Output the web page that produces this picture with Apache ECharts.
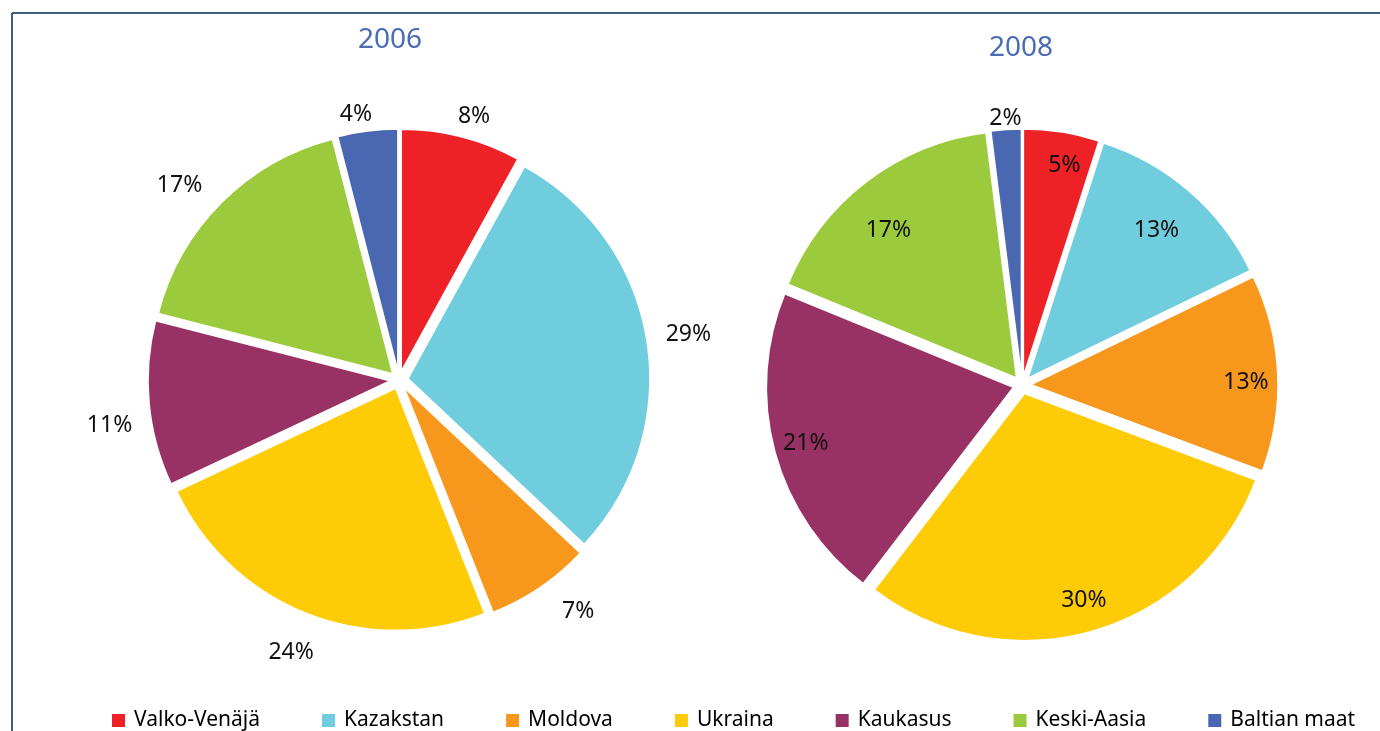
<!DOCTYPE html>
<html>
<head>
<meta charset="utf-8">
<script src="https://cdn.jsdelivr.net/npm/echarts@6/dist/echarts.min.js"></script>
<style>
  html, body { margin: 0; padding: 0; background: #fff; }
  #chart { width: 1380px; height: 731px; }
</style>
</head>
<body>
<div id="chart"></div>
<script>
// alueet ja osuudet (%)
const categories = ["Valko-Venäjä", "Kazakstan", "Moldova", "Ukraina", "Kaukasus", "Keski-Aasia", "Baltian maat"];
const values2006 = [8, 29, 7, 24, 11, 17, 4];
const values2008 = [5, 13, 13, 30, 21, 17, 2];
const years = ["2006", "2008"];
const colors = ["#ee2127", "#6fcddd", "#f7981d", "#fecc07", "#993264", "#9bca3c", "#4a68b1"];

const font = "Noto Sans";

function pieData(values) {
  return categories.map((name, i) => ({ name: name, value: values[i], selected: true }));
}

const pieBase = {
  type: "pie",
  startAngle: 90,
  clockwise: true,
  selectedMode: "multiple",
  selectedOffset: 9,
  avoidLabelOverlap: false,
  label: { show: false },
  labelLine: { show: false },
  itemStyle: { borderColor: "#fff", borderWidth: 1.5 },
  emphasis: { disabled: true },
  animation: false,
};

// läpinäkyvä rengas, joka kantaa vain prosenttitekstit
function labelRing(name, center, values, shown, radius, startAngle) {
  return {
    type: "pie",
    name: name,
    center: center,
    radius: radius,
    startAngle: startAngle,
    silent: true,
    avoidLabelOverlap: false,
    itemStyle: { color: "rgba(0,0,0,0)" },
    labelLine: { show: false },
    label: {
      position: "inside",
      formatter: "{c}%",
      color: "#111",
      fontFamily: font,
      fontSize: 23,
      textBorderWidth: 0,
    },
    emphasis: { disabled: true },
    animation: false,
    data: categories.map((n, i) => ({
      name: n,
      value: values[i],
      label: { show: shown.indexOf(i) >= 0 },
    })),
  };
}

const c2006 = [399, 380];
const c2008 = [1022, 385];

const chart = echarts.init(document.getElementById("chart"));
chart.setOption({
  color: colors,
  animation: false,
  title: [
    {
      text: years[0],
      left: 390,
      top: 26,
      textAlign: "center",
      padding: 0,
      textStyle: { color: "#4a6cb3", fontFamily: font, fontSize: 28, fontWeight: "normal" },
    },
    {
      text: years[1],
      left: 1021,
      top: 34,
      textAlign: "center",
      padding: 0,
      textStyle: { color: "#4a6cb3", fontFamily: font, fontSize: 28, fontWeight: "normal" },
    },
  ],
  legend: {
    data: categories,
    left: 110,
    top: 710,
    padding: 0,
    icon: "rect",
    itemWidth: 15,
    itemHeight: 15,
    itemGap: 60,
    selectedMode: false,
    textStyle: { color: "#000", fontFamily: font, fontSize: 21, padding: [0, 0, 0, 3] },
  },
  graphic: [
    {
      type: "line",
      shape: { x1: 12, y1: 13, x2: 1380, y2: 13 },
      style: { stroke: "#3c6180", lineWidth: 2 },
    },
    {
      type: "line",
      shape: { x1: 12, y1: 13, x2: 12, y2: 731 },
      style: { stroke: "#3c6180", lineWidth: 2 },
    },
  ],
  series: [
    Object.assign({}, pieBase, {
      name: years[0],
      center: c2006,
      radius: 242,
      data: pieData(values2006),
    }),
    labelRing("2006-a", c2006, values2006, [0], [242, 300], 88.5),
    labelRing("2006-a2", c2006, values2006, [6], [242, 290], 92),
    labelRing("2006-b", c2006, values2006, [1, 3], [242, 338], 90),
    labelRing("2006-c", c2006, values2006, [2, 4, 5], [242, 338], 93.5),

    Object.assign({}, pieBase, {
      name: years[1],
      center: c2008,
      radius: 247,
      data: pieData(values2008),
    }),
    labelRing("2008-a", c2008, values2008, [1], [157, 247], 90),
    labelRing("2008-b", c2008, values2008, [5], [155, 247], 93.5),
    labelRing("2008-c", c2008, values2008, [0, 2], [195, 247], 88),
    labelRing("2008-d", c2008, values2008, [3, 4], [195, 247], 90),
    labelRing("2008-e", c2008, values2008, [6], [247, 281], 90),
  ],
});
</script>
</body>
</html>
